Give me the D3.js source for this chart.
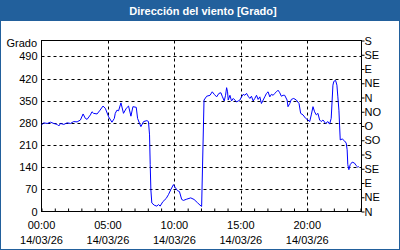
<!DOCTYPE html>
<html><head><meta charset="utf-8">
<script src="https://cdn.jsdelivr.net/npm/d3@7"></script>
<style>
body{margin:0;background:#fff;}
svg{display:block;}
text{font-family:"Liberation Sans",Arial,sans-serif;}
</style></head><body>
<svg id="c" width="400" height="250"></svg>
<script>
const title = "Dirección del viento [Grado]";
const yLabel = "Grado";
const leftTicks = [0,70,140,210,280,350,420,490];
const rightTicks = [0,45,90,135,180,225,270,315,360,405,450,495,540];
const rightLabels = ["N","NE","E","SE","S","SO","O","NO","N","NE","E","SE","S"];
const xMajorTicks = [0,5,10,15,20];
const xMajorLabels = ["00:00","05:00","10:00","15:00","20:00"];
const dateLabel = "14/03/26";
const hours = [0,0.17,0.43,0.68,0.92,1.18,1.3,1.43,1.68,1.93,2.18,2.42,2.68,2.93,3.13,3.3,3.43,3.68,3.8,3.92,4.18,4.37,4.63,4.8,5.05,5.3,5.48,5.55,5.68,5.8,5.98,6.17,6.38,6.55,6.73,6.88,7.13,7.23,7.38,7.48,7.68,7.93,8.05,8.13,8.18,8.23,8.3,8.48,8.68,8.8,8.93,9.13,9.38,9.55,9.73,9.93,10.08,10.23,10.38,10.55,10.68,10.93,11.23,11.48,11.73,11.93,12.05,12.23,12.43,12.68,12.85,13,13.18,13.35,13.5,13.6,13.75,13.85,13.93,14,14.05,14.18,14.3,14.43,14.55,14.68,14.8,14.93,15.05,15.18,15.3,15.43,15.55,15.68,15.8,15.93,16.05,16.18,16.3,16.43,16.55,16.68,16.8,16.93,17.05,17.18,17.3,17.43,17.55,17.68,17.8,17.93,18.05,18.18,18.3,18.48,18.55,18.68,18.8,18.98,19.18,19.38,19.5,19.68,19.88,20.05,20.18,20.3,20.43,20.55,20.68,20.8,20.93,21.05,21.18,21.38,21.55,21.68,21.8,21.93,22.0,22.13,22.23,22.3,22.38,22.43,22.48,22.63,22.8,22.93,23.0,23.05,23.13,23.23,23.38,23.55,23.68,23.8,23.88];
const values = [273,280,278,282,278,275,270,278,275,280,278,284,283,289,308,294,291,305,315,310,308,318,333,326,299,282,294,310,320,318,343,310,326,333,301,331,329,294,278,268,284,287,284,242,148,69,27,20,17,22,17,31,41,53,69,85,75,66,63,38,35,39,43,38,28,20,16,352,364,367,378,370,362,373,375,364,349,367,391,378,352,367,349,357,352,346,349,352,362,370,367,373,364,357,364,349,357,367,354,362,341,352,362,373,378,362,370,367,373,378,383,375,364,367,367,352,331,341,354,357,352,341,310,305,294,289,284,305,331,315,305,310,289,284,289,278,284,276,294,399,411,414,399,362,320,273,226,229,223,216,195,148,132,148,156,153,145,140,142];

const svg = d3.select("#c");
const W=400,H=250;
const L=41.5,R=361.5,T=40.5,B=211.5;
const x = d3.scaleLinear().domain([0,24.08]).range([L,R]);
const y = d3.scaleLinear().domain([0,540]).range([B,T]);

// frame
svg.append("rect").attr("x",0.5).attr("y",0.5).attr("width",W-1).attr("height",H-1).attr("fill","#fff").attr("stroke","#22609c");
svg.append("rect").attr("x",0).attr("y",0).attr("width",W).attr("height",21).attr("fill","#22609c");
svg.append("text").attr("x",203).attr("y",15).attr("text-anchor","middle").attr("fill","#fff")
  .attr("font-weight","bold").attr("font-size",11).text(title);

// grid
const g = svg.append("g");
g.selectAll(".hg").data(leftTicks.filter(d=>d>0)).join("line")
  .attr("x1",L).attr("x2",R).attr("y1",d=>Math.round(y(d))+0.5).attr("y2",d=>Math.round(y(d))+0.5)
  .attr("stroke","#000").attr("stroke-dasharray","3,3");
g.selectAll(".vg").data(xMajorTicks.filter(d=>d>0)).join("line")
  .attr("y1",T).attr("y2",B).attr("x1",d=>Math.round(x(d))+0.5).attr("x2",d=>Math.round(x(d))+0.5)
  .attr("stroke","#000").attr("stroke-dasharray","3,3");

// left axis
const la = svg.append("g").attr("transform",`translate(${L},0)`)
  .call(d3.axisLeft(y).tickValues(leftTicks).tickSize(0).tickPadding(4));
la.select(".domain").remove();
la.selectAll("text").attr("font-size",11).attr("fill","#000").attr("font-family","Liberation Sans, Arial, sans-serif");
svg.append("text").attr("x",37).attr("y",47).attr("text-anchor","end").attr("font-size",11).text(yLabel);

// right axis
const ra = svg.append("g").attr("transform",`translate(${R},0)`)
  .call(d3.axisRight(y).tickValues(rightTicks).tickSize(3).tickPadding(0).tickFormat((d,i)=>rightLabels[i]));
ra.select(".domain").remove();
ra.selectAll("text").attr("font-size",11).attr("fill","#000").attr("font-family","Liberation Sans, Arial, sans-serif");

// bottom axis: minor hourly ticks inward
const hourTicks = d3.range(0,25);
const ba = svg.append("g").attr("transform",`translate(0,${B})`)
  .call(d3.axisBottom(x).tickValues(hourTicks).tickSize(-3).tickFormat(""));
ba.select(".domain").remove();
const bl = svg.append("g").selectAll("text").data(xMajorTicks).join("text")
  .attr("x",d=>x(d)).attr("y",229).attr("text-anchor","middle").attr("font-size",11);
bl.append("tspan").attr("x",d=>x(d)).text((d,i)=>xMajorLabels[i]);
bl.append("tspan").attr("x",d=>x(d)).attr("dy",15).text(dateLabel);

// plot border
svg.append("rect").attr("x",L).attr("y",T).attr("width",R-L).attr("height",B-T).attr("fill","none").attr("stroke","#000");

// line
const pts = hours.map((h,i)=>[h,values[i]]);
svg.append("path").datum(pts).attr("fill","none").attr("stroke","#0000ff").attr("stroke-width",1)
  .attr("d",d3.line().x(d=>x(d[0])).y(d=>y(d[1])));
</script></body></html>
